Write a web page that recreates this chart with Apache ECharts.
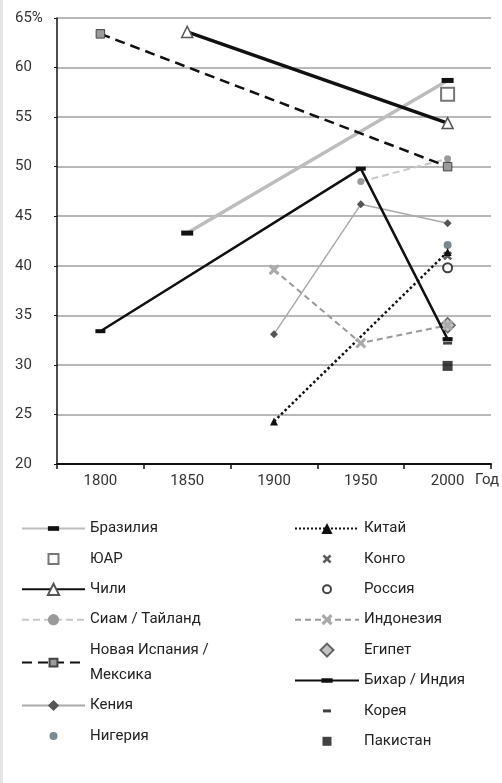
<!DOCTYPE html>
<html><head><meta charset="utf-8">
<script src="https://cdn.jsdelivr.net/npm/echarts@6/dist/echarts.min.js"></script>
<style>
html,body{margin:0;padding:0;background:#fff;}
#c{width:502px;height:783px;}
#edge{position:absolute;left:0;top:0;width:3px;height:783px;background:#e6e6e6;}
</style></head>
<body><div id="c"></div><div id="edge"></div>
<script>
const years = ['1800','1850','1900','1950','2000'];
const yTicks = {min:20, max:65, step:5};
const brazil    = [null, 43.3, null, null, 58.7];
const safrica   = [null, null, null, null, 57.3];
const chile     = [null, 63.6, null, null, 54.4];
const siam      = [null, null, null, 48.5, 50.8];
const mexico    = [63.4, null, null, null, 50.0];
const kenya     = [null, null, 33.1, 46.2, 44.3];
const nigeria   = [null, null, null, null, 42.1];
const china     = [null, null, 24.3, null, 41.4];
const congo     = [null, null, null, null, 41.0];
const russia    = [null, null, null, null, 39.8];
const indonesia = [null, null, 39.6, 32.2, 34.0];
const egypt     = [null, null, null, null, 34.0];
const bihar     = [33.4, null, null, 49.8, 32.6];
const korea     = [null, null, null, null, 32.2];
const pakistan  = [null, null, null, null, 29.9];

const X = 'path://M0,2L2,0L5,3L8,0L10,2L7,5L10,8L8,10L5,7L2,10L0,8L3,5Z';
const FONT = 'Roboto';
function padIcon(w, h, inner){ return 'path://M0,0L0,0M'+w+','+h+'L'+w+','+h+inner; }
function boxAt(w,h,cw,ch){ const x0=(w-cw)/2, y0=(h-ch)/2; return 'M'+x0+','+y0+'L'+(x0+cw)+','+y0+'L'+(x0+cw)+','+(y0+ch)+'L'+x0+','+(y0+ch)+'Z'; }
function diamondAt(w,h,s){ const cx=w/2, cy=h/2; return 'M'+cx+','+(cy-s/2)+'L'+(cx+s/2)+','+cy+'L'+cx+','+(cy+s/2)+'L'+(cx-s/2)+','+cy+'Z'; }
function circleAt(w,h,r){ const cx=w/2, cy=h/2; return 'M'+(cx-r)+','+cy+'A'+r+','+r+',0,1,1,'+(cx+r)+','+cy+'A'+r+','+r+',0,1,1,'+(cx-r)+','+cy+'Z'; }
function xAt(w,h,s){ const k=s/10, x0=w/2-s/2, y0=h/2-s/2;
  const p=[[0,2],[2,0],[5,3],[8,0],[10,2],[7,5],[10,8],[8,10],[5,7],[2,10],[0,8],[3,5]];
  return 'M'+p.map(q=>(x0+q[0]*k)+','+(y0+q[1]*k)).join('L')+'Z'; }
const DASH12 = padIcon(12,12,boxAt(12,12,12,5));
const DASH10 = padIcon(10,10,boxAt(10,10,10,4));
const SQ12   = padIcon(12,12,boxAt(12,12,8.5,8.5));

const chart = echarts.init(document.getElementById('c'));
function line(name, data, ls, sym, symSize, item, extra) {
  return Object.assign({
    name, type:'line', data, connectNulls:true, symbol:sym, symbolSize:symSize,
    showSymbol:true, lineStyle:ls, itemStyle:item, animation:false
  }, extra||{});
}
function pt(name, data, sym, symSize, item) {
  return {name, type:'scatter', data, symbol:sym, symbolSize:symSize, itemStyle:item, animation:false};
}
const legText = {fontFamily:FONT, fontSize:15, color:'#222', lineHeight:25};
const LW = 63, RW = 64, IH = 14;
chart.setOption({
  backgroundColor:'#fff',
  textStyle:{fontFamily:FONT},
  grid:{left:57, right:8, top:18, bottom:319},
  xAxis:{type:'category', data:years, boundaryGap:true,
    axisLine:{lineStyle:{color:'#111', width:2}},
    axisTick:{show:true, length:5, lineStyle:{color:'#111', width:1.5}},
    axisLabel:{fontFamily:FONT, fontSize:15, color:'#333', margin:10},
    name:'Год', nameLocation:'end', nameGap:8,
    nameTextStyle:{fontFamily:FONT, fontSize:15, color:'#333', align:'right', verticalAlign:'top', padding:[9,0,0,0]}
  },
  yAxis:{type:'value', min:yTicks.min, max:yTicks.max, interval:yTicks.step,
    axisLine:{show:true, lineStyle:{color:'#111', width:1.5}},
    axisTick:{show:true, length:3, lineStyle:{color:'#111'}},
    splitLine:{lineStyle:{color:'#a0a0a0', width:1.5}},
    axisLabel:{margin:6,
      formatter:v => '{a|' + (v===yTicks.max ? v+'%' : String(v)) + '}',
      rich:{a:{fontFamily:FONT, fontSize:15, color:'#333', width:36, align:'left'}}}
  },
  legend:[
    {orient:'vertical', left:21, top:516, itemWidth:LW, itemHeight:IH, itemGap:5.4, padding:0,
     textStyle:legText,
     data:['Бразилия',
           {name:'ЮАР', icon:padIcon(LW,IH,boxAt(LW,IH,10,10))},
           'Чили','Сиам / Тайланд','Новая Испания /\nМексика','Кения',
           {name:'Нигерия', icon:padIcon(LW,IH,circleAt(LW,IH,4))}]},
    {orient:'vertical', left:294, top:516, itemWidth:RW, itemHeight:IH, itemGap:5.4, padding:0,
     textStyle:legText,
     data:['Китай',
           {name:'Конго', icon:padIcon(RW,IH,xAt(RW,IH,9))},
           {name:'Россия', icon:padIcon(RW,IH,circleAt(RW,IH,4))},
           'Индонезия',
           {name:'Египет', icon:padIcon(RW,IH,diamondAt(RW,IH,13))},
           'Бихар / Индия',
           {name:'Корея', icon:padIcon(RW,IH,boxAt(RW,IH,8,3))},
           {name:'Пакистан', icon:padIcon(RW,IH,boxAt(RW,IH,9,9))}]}
  ],
  series:[
    line('Бразилия', brazil, {color:'#bdbdbd', width:3.5}, DASH12, 12, {color:'#111'}),
    pt('ЮАР', safrica, 'rect', 13, {color:'#fff', borderColor:'#555', borderWidth:2}),
    line('Сиам / Тайланд', siam, {color:'#c8c8c8', width:2, type:[7,4]}, 'circle', 7, {color:'#9a9a9a'}),
    line('Новая Испания /\nМексика', mexico, {color:'#111', width:2.5, type:[10,6]}, SQ12, 12, {color:'#9a9a9a', borderColor:'#444', borderWidth:1}),
    line('Кения', kenya, {color:'#aaaaaa', width:1.5}, 'diamond', 8, {color:'#555'}),
    pt('Нигерия', nigeria, 'circle', 8, {color:'#5a6b75'}),
    line('Чили', chile, {color:'#111', width:3.5}, 'triangle', 11, {color:'#fff', borderColor:'#555', borderWidth:1.5}),
    line('Китай', china, {color:'#111', width:2.5, type:'dotted'}, 'triangle', 8, {color:'#111'}),
    pt('Конго', congo, X, 9, {color:'#333'}),
    pt('Россия', russia, 'circle', 9, {color:'#fff', borderColor:'#111', borderWidth:2}),
    line('Индонезия', indonesia, {color:'#999', width:2, type:[6,4]}, X, 11, {color:'#aaa'}),
    pt('Египет', egypt, 'diamond', 15, {color:'#b4b4b4', borderColor:'#444', borderWidth:1.5}),
    line('Бихар / Индия', bihar, {color:'#111', width:2.5}, DASH10, 10, {color:'#111'}),
    pt('Корея', korea, 'rect', [9,3], {color:'#111'}),
    pt('Пакистан', pakistan, 'rect', 10, {color:'#111'})
  ]
});
</script></body></html>
